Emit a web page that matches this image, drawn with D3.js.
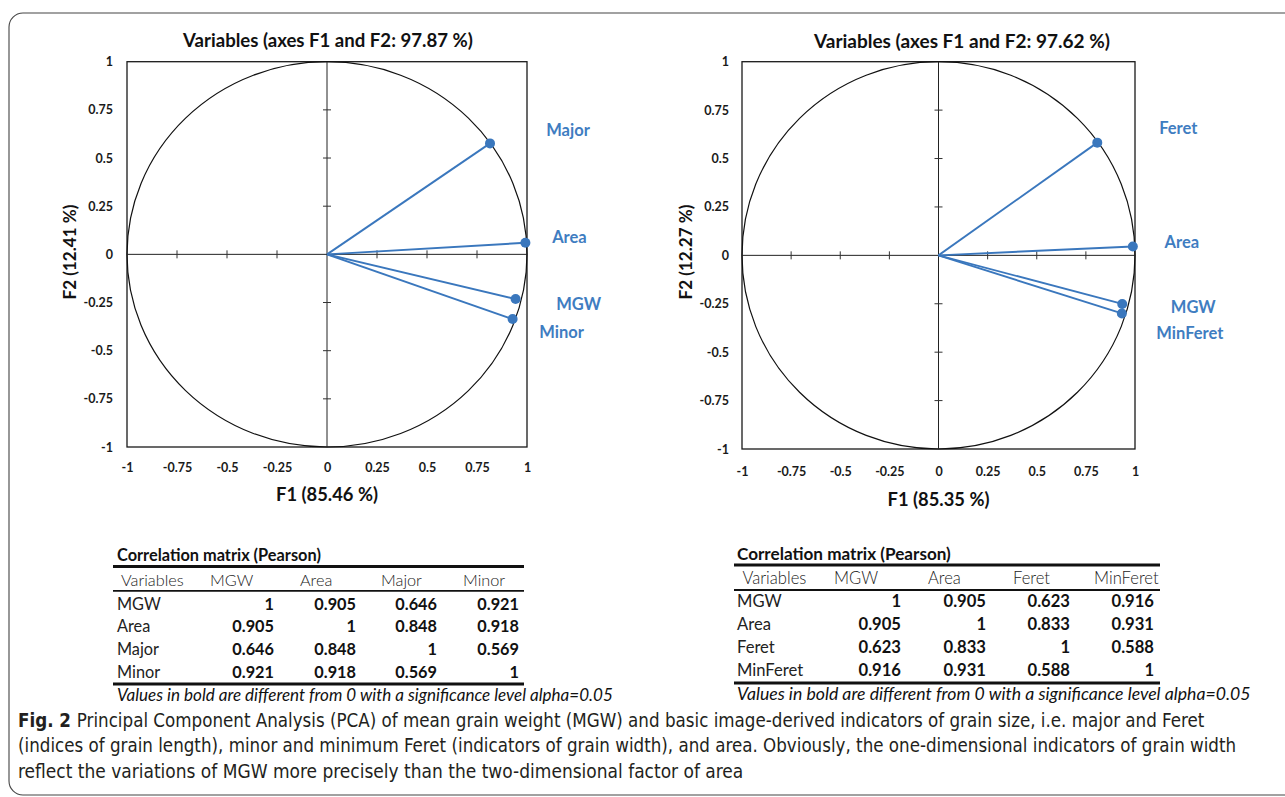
<!DOCTYPE html>
<html><head><meta charset="utf-8">
<script src="https://cdn.jsdelivr.net/npm/d3@7"></script>
<style>body{margin:0;background:#fff;overflow:hidden}</style>
</head><body>
<script>
// ---------------- DATA ----------------
const axisTicks = [-1, -0.75, -0.5, -0.25, 0, 0.25, 0.5, 0.75, 1];

const leftVariables = ["MGW", "Area", "Major", "Minor"];
const leftF1 = [0.943, 0.992, 0.815, 0.928];
const leftF2 = [-0.232, 0.060, 0.576, -0.336];
const leftTitle = "Variables (axes F1 and F2: 97.87 %)";
const leftXTitle = "F1 (85.46 %)";
const leftYTitle = "F2 (12.41 %)";

const rightVariables = ["MGW", "Area", "Feret", "MinFeret"];
const rightF1 = [0.935, 0.989, 0.808, 0.933];
const rightF2 = [-0.251, 0.046, 0.582, -0.300];
const rightTitle = "Variables (axes F1 and F2: 97.62 %)";
const rightXTitle = "F1 (85.35 %)";
const rightYTitle = "F2 (12.27 %)";

const leftMatrix = [
  [1, 0.905, 0.646, 0.921],
  [0.905, 1, 0.848, 0.918],
  [0.646, 0.848, 1, 0.569],
  [0.921, 0.918, 0.569, 1]
];
const rightMatrix = [
  [1, 0.905, 0.623, 0.916],
  [0.905, 1, 0.833, 0.931],
  [0.623, 0.833, 1, 0.588],
  [0.916, 0.931, 0.588, 1]
];
const tableTitle = "Correlation matrix (Pearson)";
const tableHeaderFirst = "Variables";
const tableNote = "Values in bold are different from 0 with a significance level alpha=0.05";

const captionBold = "Fig. 2";
const captionLines = [
  "Principal Component Analysis (PCA) of mean grain weight (MGW) and basic image-derived indicators of grain size, i.e. major and Feret",
  "(indices of grain length), minor and minimum Feret (indicators of grain width), and area. Obviously, the one-dimensional indicators of grain width",
  "reflect the variations of MGW more precisely than the two-dimensional factor of area"
];

// ---------------- LAYOUT ----------------
const W = 1285, H = 797;
const BLUE = "#3a77bd";
const LABEL_BLUE = "#3f7dc1";
const FONT = "Lato, 'Open Sans', sans-serif";

const svg = d3.select("body").append("svg").attr("width", W).attr("height", H);

// frame
svg.append("rect").attr("x", 9).attr("y", 13).attr("width", 1320).attr("height", 782)
  .attr("rx", 14).attr("fill", "none").attr("stroke", "#444").attr("stroke-width", 1.1);

function fitWidth(sel, target) {
  const w = sel.node().getComputedTextLength();
  const fs = parseFloat(sel.attr("font-size"));
  sel.attr("font-size", fs * target / w);
  return fs * target / w;
}

function drawChart(cfg) {
  const g = svg.append("g");
  const x = d3.scaleLinear().domain([-1, 1]).range([cfg.x0, cfg.x1]);
  const y = d3.scaleLinear().domain([-1, 1]).range([cfg.y1, cfg.y0]);

  // axis tick labels
  const ya = d3.axisLeft(y).tickValues(axisTicks).tickFormat(d => String(d))
    .tickSize(0).tickPadding(cfg.yPad);
  const gy = g.append("g").attr("transform", `translate(${x(-1)},0)`).call(ya);
  const xa = d3.axisBottom(x).tickValues(axisTicks).tickFormat(d => String(d))
    .tickSize(0).tickPadding(cfg.xPad);
  const gx = g.append("g").attr("transform", `translate(0,${y(-1)})`).call(xa);
  [gx, gy].forEach(a => {
    a.select(".domain").remove();
    a.attr("font-family", FONT).attr("font-size", 12.5).attr("font-weight", "bold");
    a.selectAll("text").attr("fill", "#1a1a1a");
  });

  // box
  g.append("rect").attr("x", x(-1)).attr("y", y(1))
    .attr("width", x(1) - x(-1)).attr("height", y(-1) - y(1))
    .attr("fill", "none").attr("stroke", "#1a1a1a").attr("stroke-width", 1.3);
  // correlation circle
  g.append("ellipse").attr("cx", x(0)).attr("cy", y(0))
    .attr("rx", x(1) - x(0)).attr("ry", y(0) - y(1))
    .attr("fill", "none").attr("stroke", "#111").attr("stroke-width", 1.2);
  // zero axes
  g.append("line").attr("x1", x(-1)).attr("x2", x(1)).attr("y1", y(0)).attr("y2", y(0))
    .attr("stroke", "#222").attr("stroke-width", 1);
  g.append("line").attr("x1", x(0)).attr("x2", x(0)).attr("y1", y(1)).attr("y2", y(-1))
    .attr("stroke", "#222").attr("stroke-width", 1);
  const inner = axisTicks.filter(t => t !== 0 && Math.abs(t) < 1);
  g.selectAll(".tx").data(inner).join("line")
    .attr("x1", d => x(d)).attr("x2", d => x(d)).attr("y1", y(0) - 4).attr("y2", y(0) + 4)
    .attr("stroke", "#333").attr("stroke-width", 1);
  g.selectAll(".ty").data(inner).join("line")
    .attr("y1", d => y(d)).attr("y2", d => y(d)).attr("x1", x(0) - 4).attr("x2", x(0) + 4)
    .attr("stroke", "#333").attr("stroke-width", 1);

  // vectors
  const pts = cfg.vars.map((v, i) => ({ name: v, f1: cfg.f1[i], f2: cfg.f2[i] }));
  g.selectAll(".vec").data(pts).join("line")
    .attr("x1", x(0)).attr("y1", y(0))
    .attr("x2", d => x(d.f1)).attr("y2", d => y(d.f2))
    .attr("stroke", BLUE).attr("stroke-width", 1.9);
  g.selectAll(".pt").data(pts).join("circle")
    .attr("cx", d => x(d.f1)).attr("cy", d => y(d.f2)).attr("r", 5)
    .attr("fill", BLUE);
  g.selectAll(".lbl").data(pts).join("text")
    .attr("x", d => x(d.f1) + cfg.labelOffsets[d.name][0])
    .attr("y", d => y(d.f2) + cfg.labelOffsets[d.name][1])
    .attr("text-anchor", "middle").attr("dominant-baseline", "central")
    .attr("font-family", FONT).attr("font-weight", "bold").attr("font-size", 16.5)
    .attr("fill", LABEL_BLUE).text(d => d.name);

  // titles
  const t = g.append("text").attr("x", cfg.titleX).attr("y", cfg.titleY)
    .attr("text-anchor", "middle").attr("dominant-baseline", "central")
    .attr("font-family", FONT).attr("font-weight", "bold").attr("font-size", 16)
    .attr("fill", "#111").text(cfg.title);
  fitWidth(t, cfg.titleW);
  const xt = g.append("text").attr("x", x(0)).attr("y", cfg.xTitleY)
    .attr("text-anchor", "middle").attr("dominant-baseline", "central")
    .attr("font-family", FONT).attr("font-weight", "bold").attr("font-size", 16)
    .attr("fill", "#111").text(cfg.xTitle);
  fitWidth(xt, 102);
  const yt = g.append("text")
    .attr("transform", `translate(${cfg.yTitleX},${cfg.yTitleY}) rotate(-90)`)
    .attr("text-anchor", "middle").attr("dominant-baseline", "central")
    .attr("font-family", FONT).attr("font-weight", "bold").attr("font-size", 16)
    .attr("fill", "#111").text(cfg.yTitle);
  fitWidth(yt, 95);
}

drawChart({
  x0: 127, x1: 527, y0: 61.7, y1: 447, yPad: 14, xPad: 16,
  vars: leftVariables, f1: leftF1, f2: leftF2,
  labelOffsets: { MGW: [63, 5], Area: [44, -6], Major: [78, -13], Minor: [49, 13] },
  title: leftTitle, titleX: 328, titleY: 40, titleW: 290,
  xTitle: leftXTitle, xTitleY: 494, yTitle: leftYTitle, yTitleX: 69, yTitleY: 252
});
drawChart({
  x0: 742, x1: 1135, y0: 61.7, y1: 449, yPad: 13, xPad: 18,
  vars: rightVariables, f1: rightF1, f2: rightF2,
  labelOffsets: { MGW: [71, 3], Area: [49, -4], Feret: [81, -15], MinFeret: [68, 20] },
  title: rightTitle, titleX: 962, titleY: 40, titleW: 296,
  xTitle: rightXTitle, xTitleY: 499, yTitle: rightYTitle, yTitleX: 685, yTitleY: 252
});

function drawTable(cfg) {
  const g = svg.append("g").attr("font-family", FONT).attr("fill", "#111");
  const tt = g.append("text").attr("x", cfg.labelX).attr("y", cfg.titleY)
    .attr("dominant-baseline", "central").attr("font-weight", "bold")
    .attr("font-size", 14).text(tableTitle);
  fitWidth(tt, cfg.titleW);
  const hline = (yy, w) => g.append("line").attr("x1", cfg.lx0).attr("x2", cfg.lx1)
    .attr("y1", yy).attr("y2", yy).attr("stroke", "#111").attr("stroke-width", w);
  hline(cfg.topY, 3); hline(cfg.headLineY, 1.8); hline(cfg.bottomY, 3);

  const headers = [tableHeaderFirst].concat(cfg.vars);
  g.selectAll(".hd").data(headers).join("text")
    .attr("x", (d, i) => cfg.headX[i]).attr("y", cfg.headY)
    .attr("dominant-baseline", "central").attr("font-size", cfg.fs)
    .attr("font-weight", 300).attr("fill", "#222").text(d => d);
  cfg.vars.forEach((v, r) => {
    const yy = cfg.rowY0 + r * cfg.rowStep;
    g.append("text").attr("x", cfg.labelX).attr("y", yy)
      .attr("dominant-baseline", "central").attr("font-size", cfg.fs)
      .attr("fill", "#222").text(v);
    g.selectAll(null).data(cfg.matrix[r]).join("text")
      .attr("x", (d, i) => cfg.valR[i]).attr("y", yy)
      .attr("text-anchor", "end").attr("dominant-baseline", "central")
      .attr("font-size", cfg.fs).attr("font-weight", "bold").text(d => String(d));
  });
  const nt = g.append("text").attr("x", cfg.labelX).attr("y", cfg.noteY)
    .attr("dominant-baseline", "central").attr("font-style", "italic")
    .attr("font-size", 14).text(tableNote);
  fitWidth(nt, cfg.noteW);
}

drawTable({
  vars: leftVariables, matrix: leftMatrix, fs: 16.3,
  labelX: 117, titleY: 554, titleW: 204, lx0: 113, lx1: 524,
  topY: 566.5, headY: 579, headLineY: 590.8, bottomY: 684,
  rowY0: 603, rowStep: 22.7,
  headX: [121, 210, 300, 381, 463], valR: [274, 356, 437, 519],
  noteY: 694, noteW: 496
});
drawTable({
  vars: rightVariables, matrix: rightMatrix, fs: 16.6,
  labelX: 737, titleY: 553, titleW: 214, lx0: 734, lx1: 1160,
  topY: 565, headY: 578, headLineY: 590, bottomY: 683,
  rowY0: 601, rowStep: 23,
  headX: [742.5, 834, 928, 1013, 1094], valR: [901, 986, 1070, 1154],
  noteY: 693, noteW: 514
});

// caption: natural text, horizontally condensed with a scale transform to the reference width
const CAP_FONT = "'Liberation Sans Narrow', 'DejaVu Sans Condensed', 'Noto Sans', sans-serif";
const capEnds = [1205, 1236, 744];
const capY = [720, 745, 771];
captionLines.forEach((line, i) => {
  const gg = svg.append("g");
  const t = gg.append("text").attr("x", 0).attr("y", 0)
    .attr("dominant-baseline", "central").attr("font-family", CAP_FONT)
    .attr("font-size", 19.5).attr("fill", "#231f20");
  if (i === 0) {
    t.append("tspan").attr("font-weight", "bold").text(captionBold + " ");
    t.append("tspan").text(" " + line);
  } else {
    t.text(line);
  }
  const w = t.node().getComputedTextLength();
  const sx = (capEnds[i] - 18) / w;
  gg.attr("transform", `translate(18,${capY[i]}) scale(${sx},1)`);
});
</script>
</body></html>
